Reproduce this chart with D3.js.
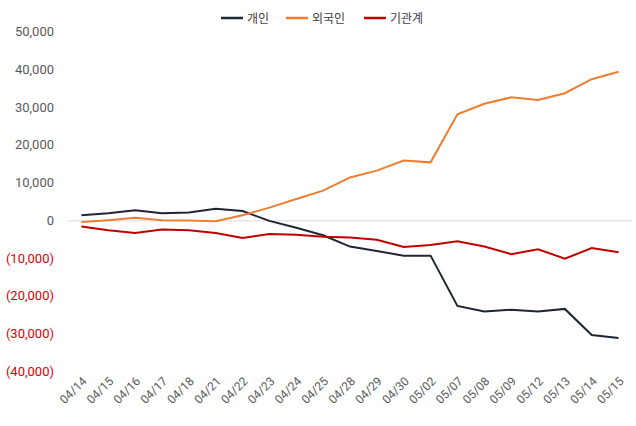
<!DOCTYPE html>
<html><head><meta charset="utf-8">
<script src="https://cdn.jsdelivr.net/npm/d3@7"></script>
<style>body{margin:0;background:#fff;font-family:Roboto,"Noto Sans CJK KR",sans-serif}</style>
</head><body><svg id="c" width="636" height="426"></svg>
<script>
const dates=["04/14","04/15","04/16","04/17","04/18","04/21","04/22","04/23","04/24","04/25","04/28","04/29","04/30","05/02","05/07","05/08","05/09","05/12","05/13","05/14","05/15"];
const individual=[1500,2000,2800,2000,2200,3200,2600,0,-1800,-3800,-6800,-8000,-9200,-9200,-22500,-24000,-23500,-24000,-23300,-30200,-31000];
const foreign=[-300,200,800,200,100,-100,1500,3500,5800,8000,11500,13300,16000,15500,28200,31000,32700,32000,33800,37500,39500];
const institution=[-1500,-2500,-3200,-2300,-2500,-3200,-4500,-3500,-3700,-4200,-4400,-5000,-6900,-6400,-5400,-6800,-8800,-7500,-10000,-7200,-8300];
const yTicks=[50000,40000,30000,20000,10000,0,-10000,-20000,-30000,-40000];
const series=[{name:"개인",v:individual,c:"#1f2533"},{name:"외국인",v:foreign,c:"#ed7d31"},{name:"기관계",v:institution,c:"#c00000"}];
const svg=d3.select("#c");
const L=68,R=632,T=32,B=372;
const x=d3.scaleBand().domain(dates).range([L,R]);
const y=d3.scaleLinear().domain([-40000,50000]).range([B,T]);
svg.append("line").attr("x1",L).attr("x2",R).attr("y1",y(0)).attr("y2",y(0)).attr("stroke","#d9d9d9");
const fmt=v=>v<0?"("+d3.format(",")(-v)+")":d3.format(",")(v);
svg.selectAll(".yt").data(yTicks).join("text").attr("x",L-14).attr("y",d=>y(d)+4).attr("text-anchor","end")
 .attr("font-size",13).attr("fill",d=>d<0?"#e00000":"#595959").text(fmt);
svg.selectAll(".xt").data(dates).join("text")
 .attr("transform",d=>`translate(${x(d)+x.bandwidth()/2+6},${B+10}) rotate(-45)`)
 .attr("text-anchor","end").attr("font-size",12).attr("fill","#595959").text(d=>d);
series.forEach(s=>{
 svg.append("path").attr("d",d3.line().x((d,i)=>x(dates[i])+x.bandwidth()/2).y(d=>y(d))(s.v))
  .attr("fill","none").attr("stroke",s.c).attr("stroke-width",2);
});
const lx=[221,286,364];
series.forEach((s,i)=>{
 svg.append("line").attr("x1",lx[i]).attr("x2",lx[i]+22).attr("y1",18).attr("y2",18).attr("stroke",s.c).attr("stroke-width",2.5);
 svg.append("text").attr("x",lx[i]+26).attr("y",22.5).attr("font-size",12).attr("fill","#404040").text(s.name);
});
</script></body></html>
